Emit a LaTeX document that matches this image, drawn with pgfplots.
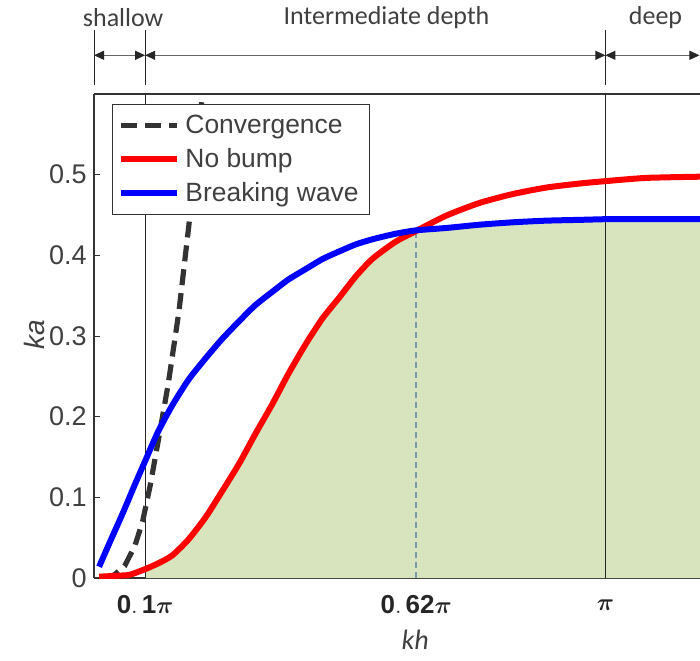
\documentclass[border=0pt]{standalone}
\usepackage{fontspec}
\usepackage{amsmath,bm}
\setmainfont{Liberation Sans}
\newfontfamily\calibri{Carlito}
\usepackage{pgfplots}
\pgfplotsset{compat=1.18}
\usetikzlibrary{arrows.meta}
\definecolor{txt}{HTML}{404040}
\definecolor{fillg}{HTML}{D7E4BD}
\definecolor{convc}{HTML}{333333}
\definecolor{vdash}{HTML}{7A9AAA}
\definecolor{noBump}{HTML}{FF0000}
\definecolor{brk}{HTML}{0000FF}
\begin{document}
\begin{tikzpicture}
\useasboundingbox (0,0) rectangle (350pt,330pt);
\begin{axis}[
  at={(47pt,41pt)}, anchor=south west,
  scale only axis, width=303pt, height=242pt,
  xmin=0, xmax=1.185, ymin=0, ymax=0.6,
  separate axis lines, axis x line*=box, axis y line*=left,
  axis line style={color=black!80, line width=0.6pt},
  clip mode=individual,
  xtick={0.1,0.63,1},
  xticklabels={$\mathbf{0.\,1}\boldsymbol{\pi}$,$\mathbf{0.\,62}\boldsymbol{\pi}$,$\boldsymbol{\pi}$},
  xticklabel style={anchor=center, yshift=-13.5pt, font=\fontsize{13}{15}\selectfont, text=black!85},
  major x tick style={draw=none},
  ytick={0,0.1,0.2,0.3,0.4,0.5},
  ytick pos=left, tick align=inside,
  major tick length=3pt,
  ytick style={color=black!80, line width=0.5pt},
  yticklabel style={anchor=east, inner sep=0pt, xshift=-3.5pt, font=\fontsize{13.5}{15}\selectfont, text=txt},
  /pgf/number format/assume math mode=true,
  xlabel={\calibri\itshape kh},
  ylabel={\itshape ka},
  every axis x label/.style={at={(axis description cs:0.53,-0.128)}, anchor=center, font=\fontsize{14}{16}\selectfont, text=txt},
  every axis y label/.style={at={(axis description cs:-0.0974,0.502)}, anchor=center, rotate=90, font=\fontsize{14}{16}\selectfont, text=txt},
  legend style={at={(axis description cs:0.0297,0.979)}, anchor=north west,
    draw=black!80, line width=0.5pt, fill=white,
    font=\fontsize{13.2}{15}\selectfont, text=txt,
    inner xsep=3pt, inner ysep=3pt, row sep=2pt,
    nodes={inner xsep=2.5pt}},
  legend cell align=left,
  legend image code/.code={\draw[#1] (0pt,0pt) -- (28pt,0pt);},
]
% shaded region
\addplot[fill=fillg, draw=none, forget plot] coordinates {
(0.1,0) (0.1,0.008) (0.125,0.015) (0.153,0.025) (0.185,0.045) (0.219,0.073)
(0.25,0.104) (0.284,0.139) (0.315,0.175) (0.349,0.213) (0.38,0.250) (0.414,0.287)
(0.447,0.319) (0.480,0.345) (0.512,0.371) (0.545,0.395) (0.59,0.416) (0.623,0.427)
(0.69,0.432) (0.754,0.436) (0.82,0.439) (0.884,0.441) (0.95,0.442) (1.014,0.443)
(1.1,0.443) (1.185,0.443) (1.185,0)};
% vertical guide lines
\draw[black!85, line width=0.5pt] (axis cs:0.1,0) -- (axis cs:0.1,0.6);
\draw[black!85, line width=0.5pt] (axis cs:1,0) -- (axis cs:1,0.6);
\draw[vdash, line width=0.7pt, dash pattern=on 3pt off 2pt] (axis cs:0.63,0) -- (axis cs:0.63,0.427);
% convergence
\addplot[convc, line width=2.6pt, dash pattern=on 8pt off 4pt] coordinates {
(0.02,0.0) (0.04,0.004) (0.06,0.015) (0.08,0.04) (0.095,0.07) (0.11,0.115)
(0.127,0.175) (0.145,0.24) (0.166,0.33) (0.186,0.44) (0.2,0.52) (0.212,0.6) (0.214,0.62)};
\addlegendentry{Convergence}
% no bump
\addplot[noBump, line width=3pt, smooth, tension=0.4] coordinates {
(0.01,0.0016) (0.05,0.003) (0.07,0.004) (0.1,0.011) (0.125,0.018) (0.153,0.028)
(0.185,0.048) (0.219,0.076) (0.25,0.107) (0.284,0.142) (0.315,0.178) (0.349,0.216)
(0.38,0.253) (0.414,0.290) (0.447,0.322) (0.480,0.348) (0.512,0.374) (0.545,0.396)
(0.59,0.417) (0.623,0.428) (0.688,0.449) (0.754,0.465) (0.819,0.476) (0.884,0.484)
(0.949,0.489) (1.0,0.492) (1.08,0.496) (1.185,0.4975)};
\addlegendentry{No bump}
% breaking wave
\addplot[brk, line width=3pt, smooth, tension=0.4] coordinates {
(0.01,0.014) (0.03,0.043) (0.056,0.080) (0.08,0.116) (0.1,0.145) (0.125,0.181)
(0.153,0.214) (0.185,0.246) (0.219,0.273) (0.25,0.296) (0.284,0.3185) (0.315,0.338)
(0.349,0.355) (0.38,0.370) (0.414,0.383) (0.447,0.3955) (0.480,0.405) (0.512,0.4136)
(0.545,0.420) (0.59,0.4268) (0.630,0.431) (0.69,0.434) (0.754,0.438) (0.82,0.441)
(0.884,0.443) (0.95,0.444) (1.014,0.445) (1.1,0.445) (1.185,0.445)};
\addlegendentry{Breaking wave}
% top annotation: regimes
\draw[black!85, line width=0.5pt] (axis cs:0,0.611) -- (axis cs:0,0.679);
\draw[black!85, line width=0.5pt] (axis cs:0.1,0.611) -- (axis cs:0.1,0.679);
\draw[black!85, line width=0.5pt] (axis cs:1,0.611) -- (axis cs:1,0.679);
\draw[black!60, line width=0.5pt, {Triangle[length=5pt,width=4.5pt,color=black!85]}-{Triangle[length=5pt,width=4.5pt,color=black!85]}] (axis cs:0,0.648) -- (axis cs:0.1,0.648);
\draw[black!60, line width=0.5pt, {Triangle[length=5pt,width=4.5pt,color=black!85]}-{Triangle[length=5pt,width=4.5pt,color=black!85]}] (axis cs:0.1,0.648) -- (axis cs:1,0.648);
\draw[black!60, line width=0.5pt, {Triangle[length=5pt,width=4.5pt,color=black!85]}-{Triangle[length=5pt,width=4.5pt,color=black!85]}] (axis cs:1,0.648) -- (axis cs:1.184,0.648);
\node[text=txt, font=\calibri\fontsize{13}{15}\selectfont] at (axis cs:0.057,0.6953) {shallow};
\node[text=txt, font=\calibri\fontsize{13}{15}\selectfont] at (axis cs:0.572,0.6953) {Intermediate depth};
\node[text=txt, font=\calibri\fontsize{13}{15}\selectfont] at (axis cs:1.098,0.6953) {deep};
\end{axis}
\end{tikzpicture}
\end{document}
